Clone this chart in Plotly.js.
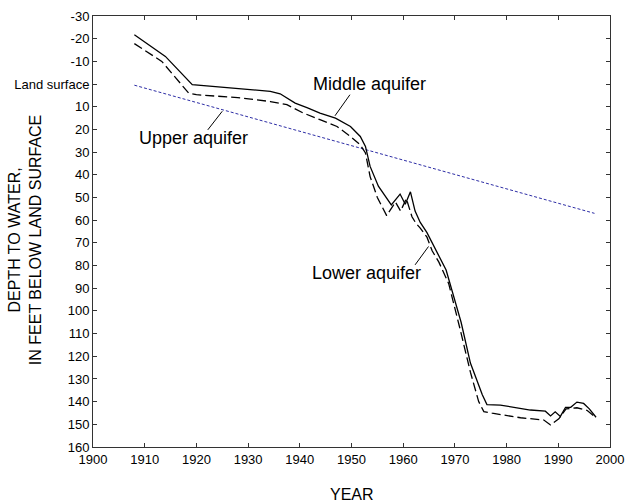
<!DOCTYPE html>
<html>
<head>
<meta charset="utf-8">
<script src="https://cdn.plot.ly/plotly-3.0.1.min.js"></script>
<style>html,body{margin:0;padding:0;background:#fff;}#chart{width:629px;height:502px;}</style>
</head>
<body>
<div id="chart"></div>
<script>
// Middle aquifer (solid line)
const middleYears = [1908, 1914, 1919.2, 1928, 1934.3, 1936.2, 1939.1, 1941.5, 1943.9, 1946.9, 1949.8, 1951.7, 1952.7, 1953.6, 1955.2, 1957.7, 1959.4, 1960.4, 1961.4, 1962.3, 1963.3, 1964.6, 1965.8, 1967.2, 1968.3, 1971.2, 1973, 1975.3, 1976.2, 1978.8, 1982.7, 1984.6, 1987.5, 1988.5, 1989.4, 1990.4, 1991.4, 1992.4, 1993.6, 1994.9, 1996, 1997.3];
const middleDepth = [-21.7, -12.2, 0.3, 1.8, 3.2, 4.3, 8.4, 10.5, 12.8, 15, 18.7, 23.1, 27.5, 36.3, 45, 53.3, 48.5, 53, 47.5, 56, 61, 65.5, 70.8, 76.5, 82, 105, 123, 137, 141.3, 141.5, 143, 143.7, 144.2, 146.3, 144.5, 146.5, 142.5, 142.5, 140.2, 140.8, 143.2, 146.9];

// Lower aquifer (dashed line)
const lowerYears = [1908, 1913.3, 1918.5, 1920, 1928, 1934.3, 1937.5, 1940.7, 1943.9, 1947.2, 1949.8, 1951.7, 1952.7, 1953.6, 1955, 1956.8, 1958.5, 1959.5, 1960.6, 1961.7, 1962.5, 1963.3, 1964.6, 1965.6, 1966.9, 1968.8, 1971, 1973, 1974.6, 1975.6, 1977.2, 1979.4, 1982.7, 1987.2, 1988.5, 1990.1, 1991.5, 1993.6, 1995.6, 1997.3];
const lowerDepth = [-17.8, -10, 4, 4.7, 6, 7.7, 9.1, 12.8, 15.7, 18.7, 23.1, 26.8, 30.4, 40.8, 50, 58, 52, 56, 50.5, 58.5, 61.5, 63.5, 67.5, 73.5, 78.5, 88, 108, 127, 140, 144.4, 145.1, 145.9, 147.1, 148.1, 150.3, 147.6, 143.2, 142.7, 143.9, 147.1];

// Upper aquifer (blue dashed straight line)
const upperYears = [1908, 1997];
const upperDepth = [0.5, 57];

// Axis ticks
const xTickVals = [1900, 1910, 1920, 1930, 1940, 1950, 1960, 1970, 1980, 1990, 2000];
const yTickVals = [-30, -20, -10, 0, 10, 20, 30, 40, 50, 60, 70, 80, 90, 100, 110, 120, 130, 140, 150, 160];
const yTickText = ['-30', '-20', '-10', 'Land surface', '10', '20', '30', '40', '50', '60', '70', '80', '90', '100', '110', '120', '130', '140', '150', '160'];

const FONT = 'Arial, "Liberation Sans", sans-serif';

const traces = [
  {x: upperYears, y: upperDepth, mode: 'lines', line: {color: '#2e2ea6', width: 1, dash: '3px,2px'}, hoverinfo: 'skip'},
  {x: lowerYears, y: lowerDepth, mode: 'lines', line: {color: '#000', width: 1.3, dash: '9px,4px'}, hoverinfo: 'skip'},
  {x: middleYears, y: middleDepth, mode: 'lines', line: {color: '#000', width: 1.3}, hoverinfo: 'skip'}
];

const axisCommon = {
  showgrid: false, zeroline: false, showline: true, linecolor: '#333', linewidth: 1,
  mirror: 'ticks', ticks: 'inside', ticklen: 4, tickcolor: '#333', tickwidth: 1,
  tickfont: {family: FONT, size: 13, color: '#000'}
};

const layout = {
  width: 629, height: 502,
  margin: {l: 93, r: 19, t: 16, b: 55},
  paper_bgcolor: '#fff', plot_bgcolor: '#fff',
  showlegend: false,
  font: {family: FONT, color: '#000'},
  xaxis: Object.assign({}, axisCommon, {range: [1900, 2000], tickvals: xTickVals}),
  yaxis: Object.assign({}, axisCommon, {range: [160, -30], tickvals: yTickVals, ticktext: yTickText}),
  annotations: [
    {text: 'Middle aquifer', x: 1953.4, y: 0, xref: 'x', yref: 'y', xanchor: 'center', yanchor: 'middle', showarrow: false, font: {size: 18, family: FONT}},
    {text: 'Upper aquifer', x: 1919.4, y: 23.7, xref: 'x', yref: 'y', xanchor: 'center', yanchor: 'middle', showarrow: false, font: {size: 18, family: FONT}},
    {text: 'Lower aquifer', x: 1952.9, y: 83.2, xref: 'x', yref: 'y', xanchor: 'center', yanchor: 'middle', showarrow: false, font: {size: 18, family: FONT}},
    {text: 'DEPTH TO WATER,<br>IN FEET BELOW LAND SURFACE', x: -0.1315, y: 0.48, xref: 'paper', yref: 'paper', xanchor: 'center', yanchor: 'middle', showarrow: false, textangle: -90, font: {size: 16, family: FONT}},
    {text: 'YEAR', x: 0.5, y: -0.111, xref: 'paper', yref: 'paper', xanchor: 'center', yanchor: 'middle', showarrow: false, font: {size: 16, family: FONT}}
  ],
  shapes: [
    {type: 'line', xref: 'x', yref: 'y', x0: 1949.7, y0: 4.7, x1: 1946.8, y1: 14, line: {color: '#000', width: 1}},
    {type: 'line', xref: 'x', yref: 'y', x0: 1922.2, y0: 20.2, x1: 1925, y1: 12, line: {color: '#000', width: 1}},
    {type: 'line', xref: 'x', yref: 'y', x0: 1962.3, y0: 79.7, x1: 1964.9, y1: 71.6, line: {color: '#000', width: 1}}
  ]
};

Plotly.newPlot('chart', traces, layout, {staticPlot: true, displayModeBar: false});
</script>
</body>
</html>
